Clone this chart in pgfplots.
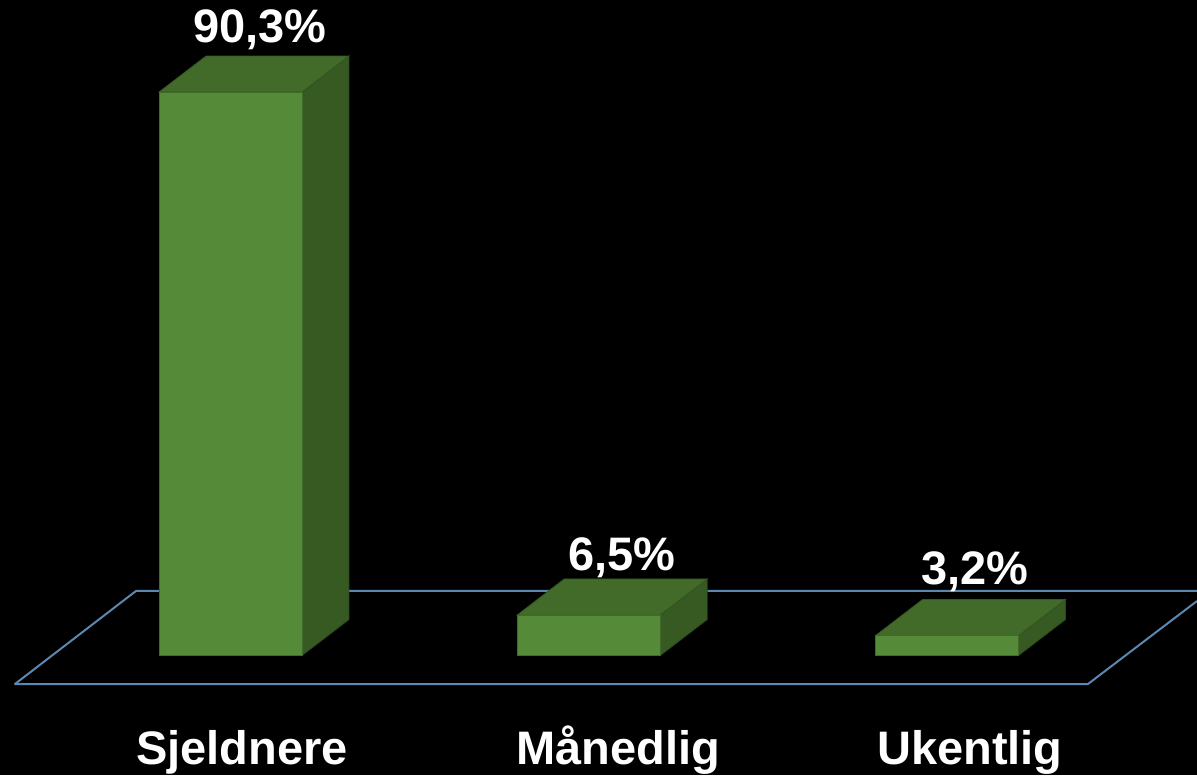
\documentclass[border=0pt]{standalone}
\usepackage{pgfplots}
\pgfplotsset{compat=1.18}
\usepackage{fontspec}
\setmainfont{Liberation Sans}

\definecolor{barfront}{HTML}{558B38}
\definecolor{bartop}{HTML}{426B2A}
\definecolor{barside}{HTML}{375A23}
\definecolor{baredge}{HTML}{3F6A29}
\definecolor{floorline}{HTML}{5B87B0}

\tikzset{lbl/.style={anchor=base, text=white, inner sep=0pt,
    font=\fontsize{23.5}{28}\selectfont\bfseries}}

\begin{document}
\begin{tikzpicture}
\begin{axis}[
    scale only axis,
    width=598.5pt, height=387.5pt,
    xmin=-0.6434, xmax=2.6978,
    ymin=-19.15, ymax=105.05,
    hide axis,
]
% background
\fill[black] (rel axis cs:0,0) rectangle (rel axis cs:1,1);

% floor
\draw[floorline, line width=1pt, line join=round]
    (axis cs:2.6978,8.73) -- (axis cs:2.3935,-4.567) -- (axis cs:-0.6016,-4.567)
    -- (axis cs:-0.2638,10.34) -- (axis cs:2.6978,10.34);

% Sjeldnere 90,3
\addplot[fill=barside, draw=barside!80!black, line width=0.4pt] coordinates
    {(0.1995,0) (0.1995,90.3) (0.3307,96.07) (0.3307,5.77)} -- cycle;
\addplot[fill=bartop, draw=bartop!80!black, line width=0.4pt] coordinates
    {(-0.1995,90.3) (-0.0683,96.07) (0.3307,96.07) (0.1995,90.3)} -- cycle;
% Maanedlig 6,5
\addplot[fill=barside, draw=barside!80!black, line width=0.4pt] coordinates
    {(1.1995,0) (1.1995,6.5) (1.3307,12.27) (1.3307,5.77)} -- cycle;
\addplot[fill=bartop, draw=bartop!80!black, line width=0.4pt] coordinates
    {(0.8005,6.5) (0.9317,12.27) (1.3307,12.27) (1.1995,6.5)} -- cycle;
% Ukentlig 3,2
\addplot[fill=barside, draw=barside!80!black, line width=0.4pt] coordinates
    {(2.1995,0) (2.1995,3.2) (2.3307,8.97) (2.3307,5.77)} -- cycle;
\addplot[fill=bartop, draw=bartop!80!black, line width=0.4pt] coordinates
    {(1.8005,3.2) (1.9317,8.97) (2.3307,8.97) (2.1995,3.2)} -- cycle;

% front faces
\addplot[ybar, bar width=0.399, fill=barfront, draw=baredge, line width=0.4pt]
    coordinates {(0,90.3) (1,6.5) (2,3.2)};

% value labels
\node[lbl] at (axis cs:0.0823,98.16) {90,3\%};
\node[lbl] at (axis cs:1.0928,13.70) {6,5\%};
\node[lbl] at (axis cs:2.078,11.30) {3,2\%};

% category labels
\node[lbl] at (axis cs:0.0321,-17.39) {Sjeldnere};
\node[lbl] at (axis cs:1.0816,-17.39) {Månedlig};
\node[lbl] at (axis cs:2.064,-17.39) {Ukentlig};
\end{axis}
\end{tikzpicture}
\end{document}
